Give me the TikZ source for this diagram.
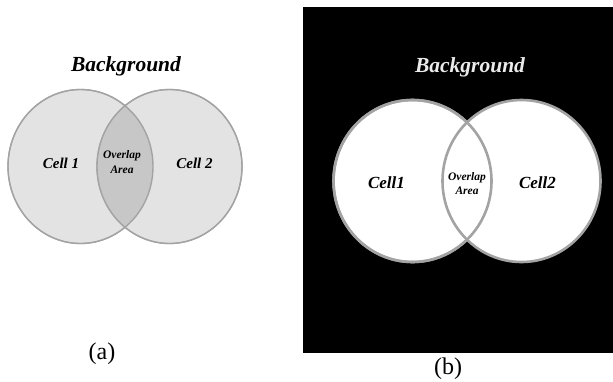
\documentclass[tikz,border=0pt]{standalone}
\usepackage{fontspec}
\setmainfont{Liberation Serif}
\usepackage{tikz}
\usetikzlibrary{positioning,calc}
\definecolor{cellfill}{HTML}{E3E3E3}
\definecolor{lensfill}{HTML}{C7C7C7}
\definecolor{cellline}{HTML}{A3A3A3}
\tikzset{%
  % regions
  cella/.style={draw=cellline, line width=1.2pt, fill=cellfill},
  cellb/.style={draw=cellline, line width=2.6pt, fill=white},
  lens/.style={fill=lensfill},
  % labels
  title/.style={font=\fontsize{21.5}{24}\selectfont\bfseries\itshape},
  celltext/.style={font=\fontsize{15}{17}\selectfont\bfseries\itshape},
  celltextb/.style={font=\fontsize{17}{19}\selectfont\bfseries\itshape},
  lenstext/.style={font=\fontsize{11.5}{13}\selectfont\bfseries\itshape, align=center, inner sep=0pt},
  caption/.style={font=\fontsize{24}{26}\selectfont},
}

\begin{document}
\begin{tikzpicture}[x=1pt, y=-1pt]
  \useasboundingbox (0,0) rectangle (613,381);

  % (a)
  \coordinate (ca1) at (80.5,166.5);
  \coordinate (ca2) at (169.5,166.5);
  \draw[cella] (ca1) ellipse [x radius=72.5, y radius=77];
  \draw[cella] (ca2) ellipse [x radius=72.5, y radius=77];
  \begin{scope}
    \clip (ca1) ellipse [x radius=72.5, y radius=77];
    \fill[lens] (ca2) ellipse [x radius=72.5, y radius=77];
  \end{scope}
  \draw[draw=cellline, line width=1.4pt] (ca1) ellipse [x radius=72.5, y radius=77];
  \draw[draw=cellline, line width=1.4pt] (ca2) ellipse [x radius=72.5, y radius=77];
  \node[title] (bga) at (126,66) {Background};
  \node[celltext] (cell1a) at (61,163) {Cell 1};
  \node[celltext] (cell2a) at (194.5,163) {Cell 2};
  \node[lenstext] (lensa) at (122,162) {Overlap\\[2pt]Area};
  \node[caption] (capa) at (102,354) {(a)};

  % (b)
  \fill[black] (303,7) rectangle (613,353);
  \coordinate (cb1) at (412.5,181);
  \coordinate (cb2) at (521.5,181);
  \fill[white] (cb1) ellipse [x radius=79, y radius=81];
  \fill[white] (cb2) ellipse [x radius=79, y radius=81];
  \draw[cellb] (cb1) ellipse [x radius=79, y radius=81];
  \draw[cellb] (cb2) ellipse [x radius=79, y radius=81];
  \draw[draw=cellline, line width=2.6pt] (cb1) ellipse [x radius=79, y radius=81];
  \node[title, text=white!92!black] (bgb) at (470,67) {Background};
  \node[celltextb] (cell1b) at (386.5,183) {Cell1};
  \node[celltextb] (cell2b) at (537.5,183) {Cell2};
  \node[lenstext] (lensb) at (467,183.5) {Overlap\\[1pt]Area};
  \node[caption] (capb) at (448,369) {(b)};
\end{tikzpicture}
\end{document}
